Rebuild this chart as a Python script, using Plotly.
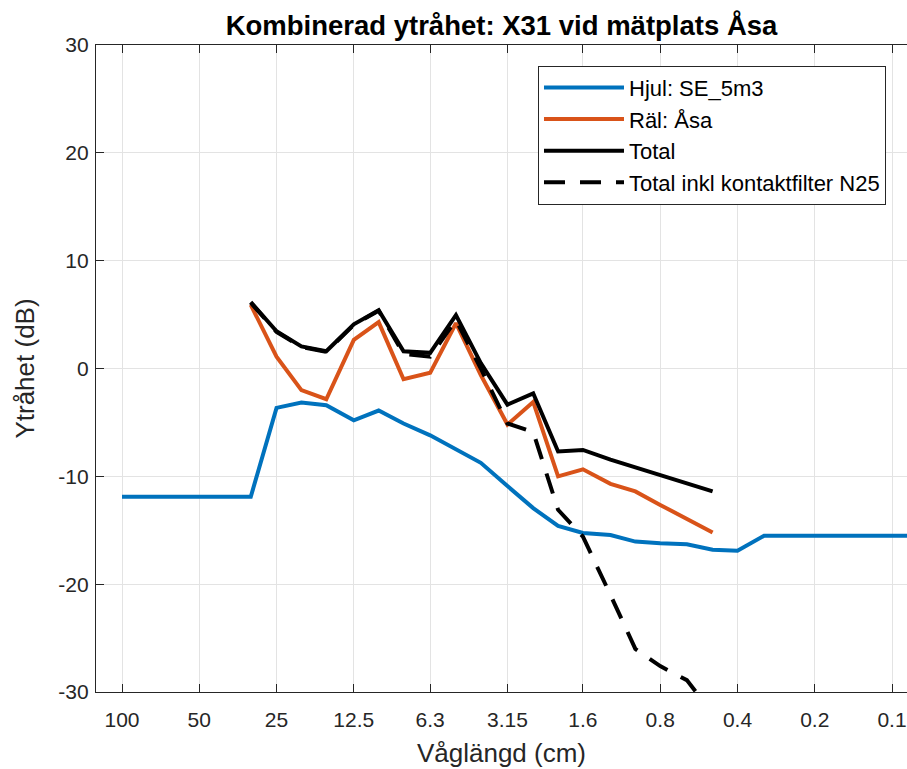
import plotly.graph_objects as go

# Third-octave wavelength bands (cm)
wavelength_cm = [100, 80, 63, 50, 40, 31.5, 25, 20, 16, 12.5, 10, 8, 6.3, 5, 4,
                 3.15, 2.5, 2, 1.6, 1.25, 1, 0.8, 0.63, 0.5, 0.4, 0.315, 0.25,
                 0.2, 0.16, 0.125, 0.1, 0.08]
measured_wavelength_cm = [31.5, 25, 20, 16, 12.5, 10, 8, 6.3, 5, 4, 3.15, 2.5,
                          2, 1.6, 1.25, 1, 0.8, 0.63, 0.5]

# Roughness levels (dB)
hjul_db = [-11.9, -11.9, -11.9, -11.9, -11.9, -11.9, -3.65, -3.15, -3.4, -4.8,
           -3.9, -5.1, -6.2, -7.45, -8.75, -10.9, -12.95, -14.6, -15.25, -15.45,
           -16.05, -16.2, -16.3, -16.8, -16.9, -15.5, -15.5, -15.5, -15.5, -15.5,
           -15.5, -15.5]
ral_db = [5.9, 1.1, -2.0, -2.85, 2.65, 4.3, -1.0, -0.4, 4.2, -0.6, -5.2, -3.1,
          -10.0, -9.35, -10.7, -11.4, -12.65, -13.95, -15.2]
total_db = [6.15, 3.45, 2.05, 1.6, 4.1, 5.4, 1.6, 1.45, 4.95, 0.5, -3.35, -2.3,
            -7.7, -7.55, -8.45, -9.15, -9.9, -10.65, -11.4]
total_filter_db = [6.1, 3.4, 2.0, 1.55, 4.05, 5.35, 1.35, 1.1, 4.5, 0.0, -5.1,
                   -5.9, -13.1, -15.6, -21.0, -26.0, -27.6, -28.9, -32.0]

x_tick_vals = [100, 50, 25, 12.5, 6.3, 3.15, 1.6, 0.8, 0.4, 0.2, 0.1]
x_tick_text = ["100", "50", "25", "12.5", "6.3", "3.15", "1.6", "0.8", "0.4", "0.2", "0.1"]
y_tick_vals = [-30, -20, -10, 0, 10, 20, 30]
y_tick_text = ["-30", "-20", "-10", "0", "10", "20", "30"]

FONT = "Arial, 'Liberation Sans', Helvetica, sans-serif"
AXIS_COLOR = "#262626"
GRID_COLOR = "#e3e3e3"
LW = 4

fig = go.Figure()
fig.add_trace(go.Scatter(x=wavelength_cm, y=hjul_db, mode="lines",
                         name="Hjul: SE_5m3",
                         line=dict(color="#0072BD", width=LW)))
fig.add_trace(go.Scatter(x=measured_wavelength_cm, y=ral_db, mode="lines",
                         name="Räl: Åsa",
                         line=dict(color="#D95319", width=LW)))
fig.add_trace(go.Scatter(x=measured_wavelength_cm, y=total_db, mode="lines",
                         name="Total",
                         line=dict(color="#000000", width=LW)))
fig.add_trace(go.Scatter(x=measured_wavelength_cm, y=total_filter_db, mode="lines",
                         name="Total inkl kontaktfilter N25",
                         line=dict(color="#000000", width=LW, dash="21px,15px")))

fig.update_layout(
    width=907, height=769,
    margin=dict(l=96, r=0, t=45, b=77),
    paper_bgcolor="white", plot_bgcolor="white",
    font=dict(family=FONT, color=AXIS_COLOR),
    title=dict(text="<b>Kombinerad ytråhet: X31 vid mätplats Åsa</b>",
               font=dict(size=27.5, color="#000000"),
               x=0.5, xref="paper", xanchor="center",
               y=1 - 25 / 769, yref="container", yanchor="middle"),
    legend=dict(x=0.545, y=0.968, xanchor="left", yanchor="top",
                bgcolor="white", bordercolor=AXIS_COLOR, borderwidth=1,
                font=dict(size=22, color="#000000"), itemwidth=80,
                tracegroupgap=0),
    showlegend=True,
)

fig.update_xaxes(
    type="log", range=[2.1013, -1.0584],
    tickmode="array", tickvals=x_tick_vals, ticktext=x_tick_text,
    ticks="inside", ticklen=8, tickwidth=1.3, tickcolor=AXIS_COLOR,
    showline=True, linecolor=AXIS_COLOR, linewidth=1.3, mirror="ticks",
    showgrid=True, gridcolor=GRID_COLOR, gridwidth=1, zeroline=False,
    tickfont=dict(size=21, color=AXIS_COLOR), ticklabelstandoff=9,
    title=dict(text="Våglängd (cm)", font=dict(size=26, color=AXIS_COLOR), standoff=13),
)
fig.update_yaxes(
    range=[-30, 30],
    tickmode="array", tickvals=y_tick_vals, ticktext=y_tick_text,
    ticks="inside", ticklen=8, tickwidth=1.3, tickcolor=AXIS_COLOR,
    showline=True, linecolor=AXIS_COLOR, linewidth=1.3, mirror=False,
    showgrid=True, gridcolor=GRID_COLOR, gridwidth=1, zeroline=False,
    tickfont=dict(size=21, color=AXIS_COLOR), ticklabelstandoff=2,
    title=dict(text="Ytråhet (dB)", font=dict(size=26, color=AXIS_COLOR), standoff=16),
)

fig.write_html("out.html")
